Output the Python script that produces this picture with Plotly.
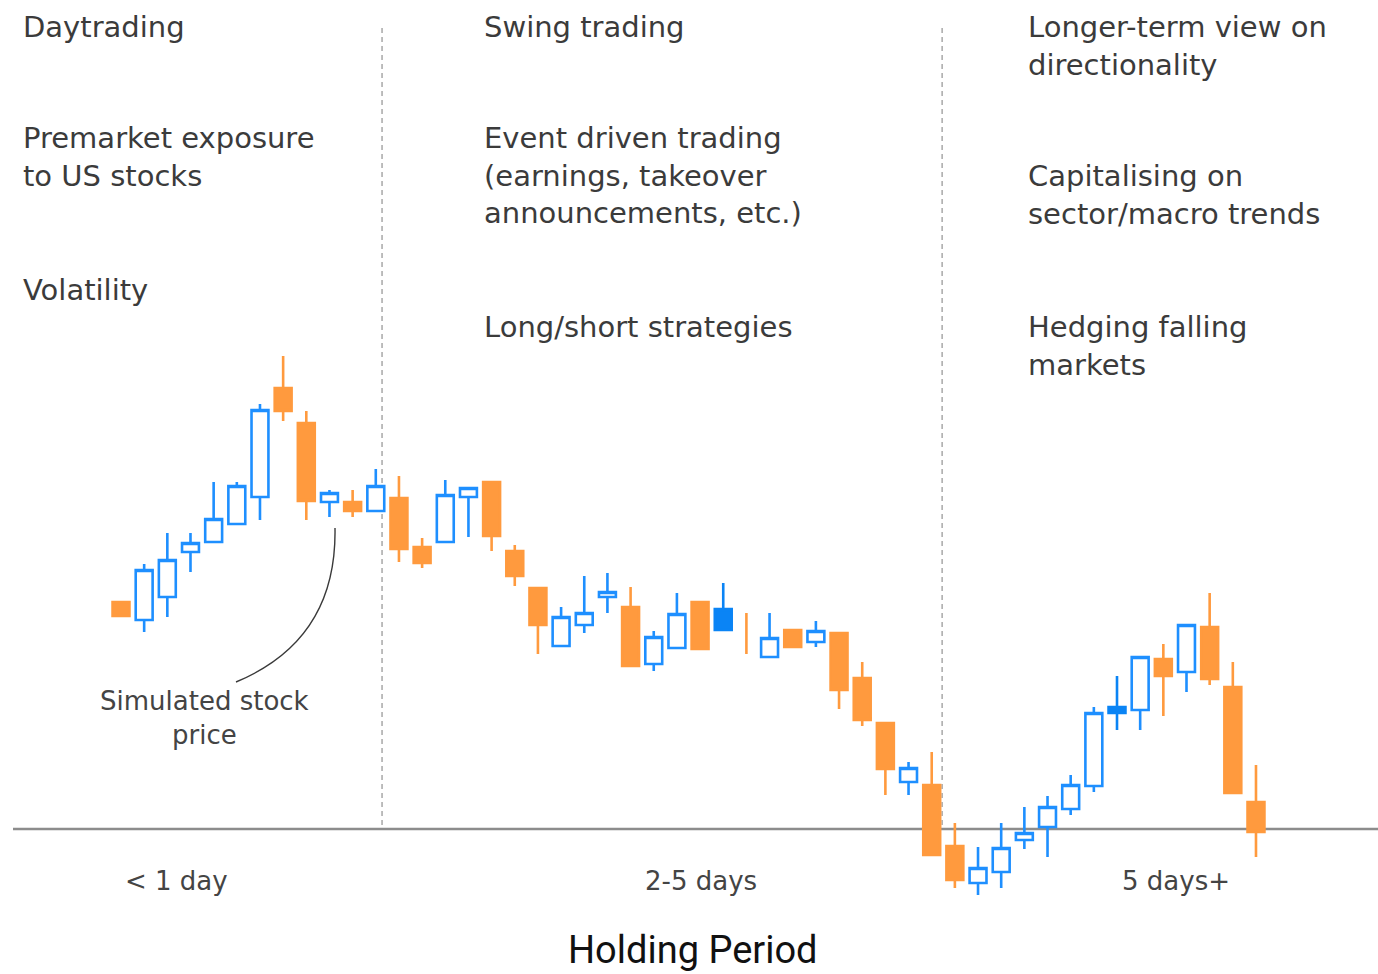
"""Candlestick sketch of holding periods: daytrading / swing / longer-term."""

import plotly.graph_objects as go

# --- data -----------------------------------------------------------------
# simulated price path, one candle per step (open, high, low, close)
OPEN = [348, 330, 353, 398, 408, 426, 453, 562, 527, 448,
        448, 439, 452, 403, 408, 453, 468, 399, 362, 304,
        325, 353, 343, 286, 302, 348, 320, 337, 293, 320,
        308, 317, 272, 227, 168, 165, 104, 67, 78, 110,
        123, 141, 164, 237, 240, 291, 278, 323, 263, 148]
HIGH = [348, 386, 417, 417, 468, 468, 546, 594, 539, 460,
        460, 481, 474, 412, 470, 462, 468, 405, 362, 343,
        374, 377, 363, 319, 357, 348, 367, 337, 337, 320,
        329, 317, 288, 227, 188, 198, 127, 103, 127, 143,
        154, 175, 243, 274, 293, 306, 325, 357, 288, 185]
LOW = [334, 318, 333, 378, 408, 426, 430, 529, 430, 433,
       433, 439, 388, 382, 408, 413, 399, 364, 296, 303,
       317, 337, 284, 279, 302, 301, 320, 296, 293, 303,
       303, 241, 224, 155, 155, 95, 62, 55, 62, 101,
       93, 135, 158, 220, 220, 234, 258, 265, 157, 93]
CLOSE = [334, 380, 390, 407, 431, 464, 540, 539, 449, 457,
         439, 464, 401, 387, 455, 462, 414, 374, 325, 333,
         337, 358, 284, 313, 336, 301, 341, 296, 312, 303,
         319, 260, 230, 181, 182, 95, 70, 82, 102, 117,
         143, 165, 237, 243, 293, 274, 325, 271, 157, 118]

FILLED_UP = [26, 43]      # up-candles drawn with a solid body
WICK_ONLY = [27]          # candle drawn as a bare high-low stroke
BASELINE = 121            # price level of the horizontal axis line
SPLITS = [11.27, 35.45]   # boundaries between holding-period regimes

# (lines, left px, first baseline px)
COLUMN_TEXT = [
    (["Daytrading"], 23, 37),
    (["Premarket exposure", "to US stocks"], 23, 148),
    (["Volatility"], 23, 300),
    (["Swing trading"], 484, 37),
    (["Event driven trading", "(earnings, takeover", "announcements, etc.)"], 484, 148),
    (["Long/short strategies"], 484, 337),
    (["Longer-term view on", "directionality"], 1028, 37),
    (["Capitalising on", "sector/macro trends"], 1028, 186),
    (["Hedging falling", "markets"], 1028, 337),
]
POINTER_TEXT = ["Simulated stock", "price"]
PERIODS = [("< 1 day", 176), ("2-5 days", 701), ("5 days+", 1176)]

ORANGE = "#FF9A3E"
BLUE = "#1E8FFF"
W, H = 1378, 974
X0, DX = 121, 23.163      # pixel centre of first candle, candle spacing
TEXT_FONT = "DejaVu Sans, Verdana, sans-serif"


def px_x(px):
    return (px - X0) / DX


def px_y(py):
    return 950 - py


def subset(idx):
    return dict(
        x=idx,
        open=[OPEN[i] for i in idx],
        high=[HIGH[i] for i in idx],
        low=[LOW[i] for i in idx],
        close=[CLOSE[i] for i in idx],
    )


fig = go.Figure()

normal = [i for i in range(len(OPEN)) if i not in FILLED_UP + WICK_ONLY]
fig.add_trace(go.Candlestick(
    **subset(normal),
    increasing=dict(line=dict(color=BLUE, width=2.6), fillcolor="white"),
    decreasing=dict(line=dict(color=ORANGE, width=2.6), fillcolor=ORANGE),
    whiskerwidth=0, hoverinfo="skip", showlegend=False,
))
fig.add_trace(go.Candlestick(
    **subset(FILLED_UP),
    increasing=dict(line=dict(color="#0A84F5", width=2.6), fillcolor="#0A84F5"),
    decreasing=dict(line=dict(color=ORANGE, width=2.6), fillcolor=ORANGE),
    whiskerwidth=0, hoverinfo="skip", showlegend=False,
))
for i in WICK_ONLY:
    fig.add_trace(go.Scatter(
        x=[i, i], y=[LOW[i], HIGH[i]], mode="lines",
        line=dict(color=ORANGE, width=2.6),
        hoverinfo="skip", showlegend=False,
    ))

# axis line + regime separators
fig.add_shape(type="line", xref="x", yref="y",
              x0=px_x(13), x1=px_x(W), y0=BASELINE, y1=BASELINE,
              line=dict(color="#8c8c8c", width=2.5), layer="below")
for s in SPLITS:
    fig.add_shape(type="line", xref="x", yref="y",
                  x0=s, x1=s, y0=px_y(28), y1=BASELINE,
                  line=dict(color="#a8a8a8", width=1.5, dash="5px,4px"),
                  layer="below")

# pointer curve to the price series
fig.add_shape(
    type="path", xref="x", yref="y",
    path=(f"M {px_x(335):.3f} {px_y(528)} "
          f"Q {px_x(337):.3f} {px_y(640)} {px_x(236):.3f} {px_y(682)}"),
    line=dict(color="#3a3a3a", width=1.4),
)


def label(text, x, baseline, size, family, color, anchor="left"):
    # place by first baseline: box top is ~0.95 em (+1px pad) above it
    fig.add_annotation(
        text=text, xref="x", yref="y",
        x=px_x(x - 2 if anchor == "left" else x),
        y=px_y(baseline - 0.95 * size - 1),
        xanchor=anchor, yanchor="top", align=anchor, showarrow=False,
        font=dict(family=family, size=size, color=color),
    )


for lines, x, base in COLUMN_TEXT:
    label("<br>".join(lines), x, base, 29, TEXT_FONT, "#3b3b3b")

label("<br>".join(POINTER_TEXT), 204, 710, 26, TEXT_FONT, "#444444", anchor="center")

for text, x in PERIODS:
    label(text, x, 890, 26, TEXT_FONT, "#444444", anchor="center")

label("Holding Period", 693, 963, 38, "Roboto, sans-serif", "#111111", anchor="center")

fig.update_layout(
    width=W, height=H,
    margin=dict(l=0, r=0, t=0, b=0),
    paper_bgcolor="white", plot_bgcolor="white",
    boxgap=0.27, boxgroupgap=0,
    xaxis=dict(range=[px_x(0), px_x(W)], visible=False, fixedrange=True,
               rangeslider=dict(visible=False)),
    yaxis=dict(range=[px_y(H), px_y(0)], visible=False, fixedrange=True),
)

# drop the default page margin so the figure sits flush in the window
fig.write_html(
    "out.html",
    config={"displayModeBar": False},
    post_script="document.body.style.margin = '0';",
)
